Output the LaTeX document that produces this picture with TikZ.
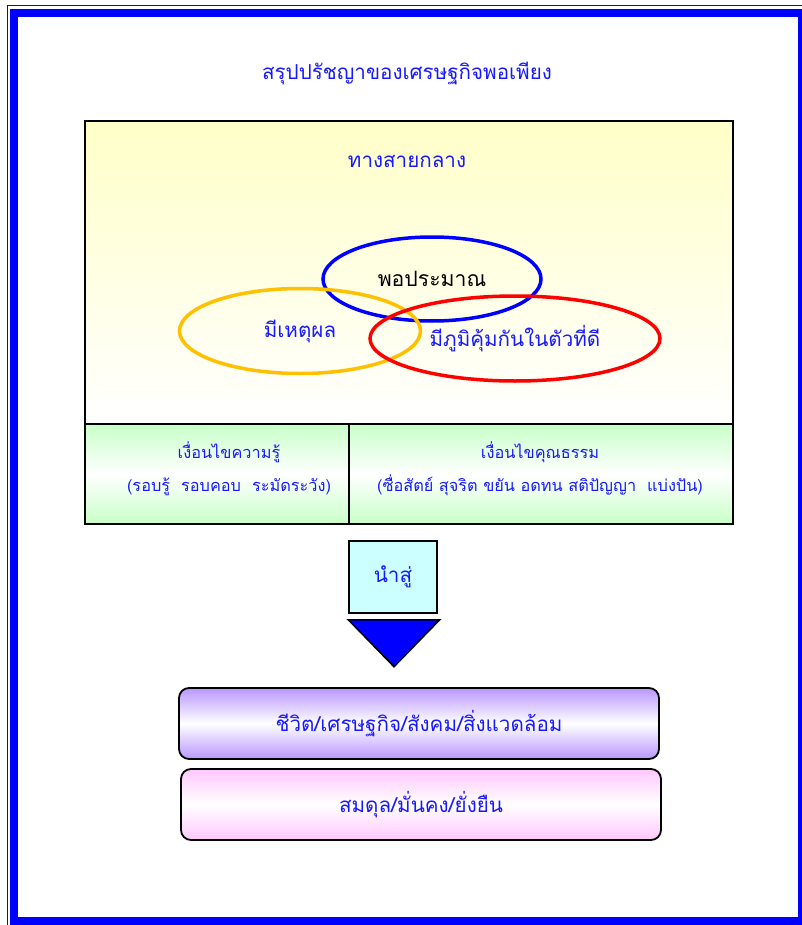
\documentclass[tikz,border=0pt]{standalone}
\usepackage{fontspec}
\usepackage{tikz}
\usetikzlibrary{shapes.geometric}
\newfontfamily\thaifont[Script=Thai]{Loma}
\definecolor{frameblue}{RGB}{0,0,255}
\definecolor{textblue}{RGB}{25,25,255}
\definecolor{paleyellow}{RGB}{255,255,200}
\definecolor{palegreen}{RGB}{200,255,200}
\definecolor{palecyan}{RGB}{204,255,255}
\definecolor{lilac}{RGB}{185,150,255}
\definecolor{palepink}{RGB}{255,200,255}
\definecolor{ringgold}{RGB}{255,192,0}

\begin{document}
\begin{tikzpicture}[x=1pt,y=1pt]
\tikzstyle{every node}+=[inner sep=0pt]
\tikzstyle{thai}=[font=\thaifont\fontsize{20.6}{24}\selectfont, text=textblue]
\tikzstyle{thaismall}=[font=\thaifont\fontsize{16.3}{33}\selectfont, text=textblue, align=center]
\tikzstyle{thaibig}=[font=\thaifont\fontsize{21.2}{26}\selectfont, text=textblue]
\tikzstyle{ring}=[ellipse, draw, line width=3.5]
\tikzstyle{cell}=[draw, line width=1.5, top color=palegreen, bottom color=palegreen, middle color=white, minimum height=100]
\tikzstyle{band}=[draw, line width=1.8, rounded corners=10, minimum width=480, minimum height=71]
\clip (0,0) rectangle (802,-925);
\useasboundingbox (0,0) rectangle (802,-925);
\fill [white] (0,0) rectangle (802,-925);
\draw [frameblue, line width=1.5] (7.5,-5.5) rectangle (815,-935);
\draw [frameblue, line width=8] (14,-13) rectangle (802,-921);
\node [thai] (title) at (407,-73) {สรุปปรัชญาของเศรษฐกิจพอเพียง};
\node [draw, line width=1.5, top color=paleyellow, bottom color=white, minimum width=648, minimum height=303] (middle) at (409,-272.5) {};
\node [thai] (way) at (407,-161) {ทางสายกลาง};
\node [ring, draw=frameblue, minimum width=218, minimum height=84, thaibig, text=black] (moderate) at (432,-279) {พอประมาณ};
\node [ring, draw=ringgold, minimum width=241, minimum height=85, thai] (reason) at (300,-331) {มีเหตุผล};
\node [ring, draw=red, minimum width=290, minimum height=85, thai] (immunity) at (515,-338.5) {มีภูมิคุ้มกันในตัวที่ดี};
\node [cell, minimum width=264] (knowcell) at (217,-474) {};
\node [cell, minimum width=384] (virtuecell) at (541,-474) {};
\node [thaismall] (know) at (229,-469) {เงื่อนไขความรู้\\(รอบรู้~~รอบคอบ~~ระมัดระวัง)};
\node [thaismall] (virtue) at (540,-469) {เงื่อนไขคุณธรรม\\(ซื่อสัตย์ สุจริต ขยัน อดทน สติปัญญา~~แบ่งปัน)};
\node [draw, line width=1.5, fill=palecyan, minimum width=88, minimum height=72, thai] (lead) at (393,-577) {นำสู่};
\draw [black, line width=1.5, fill=frameblue] ([yshift=-6]lead.south west) -- ([xshift=2,yshift=-6]lead.south east) -- ([xshift=1,yshift=-53]lead.south) -- cycle;
\node [band, top color=lilac, bottom color=lilac, middle color=white, thai] (life) at (419,-723.5) {ชีวิต/เศรษฐกิจ/สังคม/สิ่งแวดล้อม};
\node [band, top color=palepink, bottom color=palepink, middle color=white, thai] (balance) at (421,-804.5) {สมดุล/มั่นคง/ยั่งยืน};
\end{tikzpicture}
\end{document}
